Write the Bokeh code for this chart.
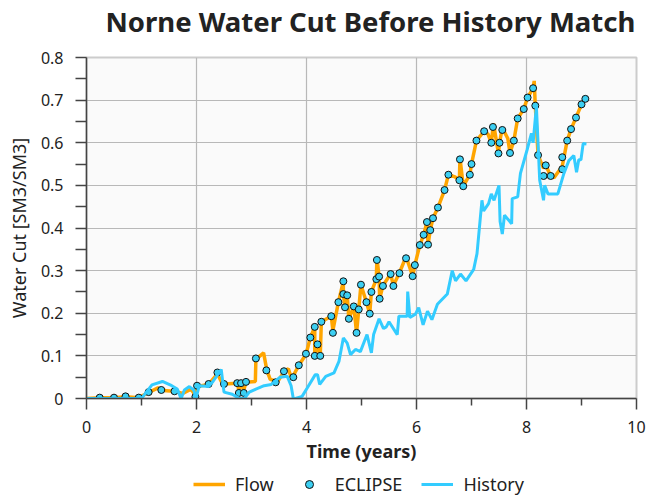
from bokeh.plotting import figure
from bokeh.layouts import column
from bokeh.models import Legend, LegendItem, FixedTicker, NumeralTickFormatter, ColumnDataSource
from bokeh.embed import file_html
from bokeh.resources import INLINE

# ---- data ----
flow_t = [0.00, 0.24, 0.50, 0.71, 0.95, 1.13, 1.30, 1.45, 1.60, 1.75, 1.90, 1.98, 2.01, 2.22, 2.38, 2.45,
          2.50, 2.74, 2.77, 2.81, 2.86, 2.90, 3.07, 3.08, 3.22, 3.28, 3.34, 3.48, 3.59, 3.67, 3.73, 3.86,
          3.99, 4.07, 4.15, 4.15, 4.20, 4.25, 4.27, 4.45, 4.48, 4.58, 4.67, 4.67, 4.70, 4.74, 4.77, 4.86,
          4.91, 4.95, 4.99, 5.09, 5.15, 5.18, 5.27, 5.28, 5.32, 5.33, 5.39, 5.53, 5.58, 5.69, 5.81, 5.93,
          5.97, 6.06, 6.13, 6.19, 6.21, 6.25, 6.30, 6.39, 6.51, 6.58, 6.70, 6.78, 6.79, 6.85, 6.97, 7.00,
          7.09, 7.23, 7.30, 7.36, 7.40, 7.49, 7.51, 7.56, 7.66, 7.70, 7.77, 7.84, 7.95, 8.02, 8.12, 8.14,
          8.16, 8.21, 8.31, 8.35, 8.44, 8.50, 8.65, 8.74, 8.81, 8.90, 9.00, 9.07]
flow_wc = [0.000, 0.002, 0.002, 0.004, 0.002, 0.014, 0.025, 0.018, 0.017, 0.012, 0.022, 0.008, 0.028, 0.033, 0.058, 0.040,
           0.034, 0.036, 0.020, 0.036, 0.020, 0.038, 0.040, 0.092, 0.107, 0.066, 0.045, 0.040, 0.063, 0.070, 0.046, 0.078,
           0.103, 0.143, 0.168, 0.100, 0.127, 0.100, 0.180, 0.193, 0.160, 0.226, 0.275, 0.245, 0.213, 0.242, 0.187, 0.216,
           0.154, 0.209, 0.267, 0.226, 0.199, 0.250, 0.280, 0.330, 0.286, 0.234, 0.265, 0.292, 0.265, 0.295, 0.333, 0.287,
           0.313, 0.360, 0.384, 0.414, 0.361, 0.395, 0.423, 0.448, 0.489, 0.525, 0.520, 0.512, 0.565, 0.498, 0.525, 0.550,
           0.605, 0.627, 0.620, 0.600, 0.645, 0.575, 0.600, 0.635, 0.610, 0.576, 0.605, 0.657, 0.679, 0.706, 0.728, 0.745,
           0.687, 0.571, 0.540, 0.547, 0.522, 0.518, 0.545, 0.605, 0.632, 0.659, 0.690, 0.703]

eclipse_t = [0.24, 0.50, 0.71, 0.95, 1.13, 1.36, 1.60, 1.98, 2.01, 2.22, 2.38, 2.50, 2.74, 2.77, 2.81, 2.86,
             2.90, 3.08, 3.27, 3.44, 3.59, 3.76, 3.86, 3.99, 4.07, 4.15, 4.15, 4.20, 4.25, 4.27, 4.45, 4.48,
             4.58, 4.67, 4.67, 4.70, 4.74, 4.77, 4.86, 4.91, 4.95, 4.99, 5.09, 5.15, 5.18, 5.27, 5.28, 5.32,
             5.33, 5.39, 5.53, 5.58, 5.69, 5.81, 5.93, 5.97, 6.06, 6.13, 6.19, 6.21, 6.25, 6.30, 6.39, 6.51,
             6.58, 6.78, 6.79, 6.85, 6.97, 7.00, 7.09, 7.23, 7.36, 7.39, 7.49, 7.51, 7.56, 7.70, 7.77, 7.84,
             7.95, 8.02, 8.12, 8.16, 8.21, 8.31, 8.35, 8.44, 8.65, 8.65, 8.74, 8.81, 8.90, 9.00, 9.07]
eclipse_wc = [0.002, 0.002, 0.005, 0.002, 0.015, 0.020, 0.017, 0.004, 0.030, 0.034, 0.061, 0.034, 0.036, 0.013, 0.036, 0.013,
              0.039, 0.094, 0.066, 0.038, 0.064, 0.050, 0.078, 0.105, 0.143, 0.168, 0.100, 0.127, 0.100, 0.180, 0.193, 0.154,
              0.226, 0.275, 0.245, 0.214, 0.242, 0.187, 0.216, 0.154, 0.209, 0.267, 0.226, 0.199, 0.250, 0.280, 0.325, 0.286,
              0.234, 0.264, 0.292, 0.264, 0.294, 0.329, 0.287, 0.313, 0.360, 0.384, 0.414, 0.361, 0.395, 0.423, 0.448, 0.489,
              0.525, 0.512, 0.561, 0.498, 0.525, 0.550, 0.605, 0.627, 0.600, 0.637, 0.575, 0.600, 0.630, 0.576, 0.605, 0.657,
              0.679, 0.706, 0.728, 0.687, 0.571, 0.522, 0.547, 0.522, 0.538, 0.566, 0.605, 0.632, 0.659, 0.690, 0.703]

history_t = [0.00, 1.00, 1.19, 1.38, 1.55, 1.65, 1.72, 1.78, 1.87, 1.95, 1.99, 2.05, 2.22, 2.30, 2.45, 2.50,
             2.65, 2.78, 2.87, 2.96, 3.08, 3.23, 3.36, 3.52, 3.65, 3.72, 3.76, 3.80, 3.92, 4.01, 4.16, 4.20,
             4.24, 4.35, 4.50, 4.59, 4.67, 4.74, 4.80, 4.89, 4.98, 5.10, 5.18, 5.22, 5.32, 5.40, 5.45, 5.50,
             5.65, 5.68, 5.83, 5.84, 5.88, 5.98, 6.04, 6.12, 6.20, 6.28, 6.38, 6.56, 6.65, 6.71, 6.80, 6.90,
             7.04, 7.10, 7.19, 7.22, 7.31, 7.36, 7.41, 7.50, 7.52, 7.56, 7.60, 7.73, 7.74, 7.84, 7.89, 8.01,
             8.09, 8.12, 8.18, 8.24, 8.31, 8.33, 8.39, 8.57, 8.68, 8.77, 8.86, 8.91, 8.95, 8.99, 9.03, 9.09]
history_wc = [0.000, 0.000, 0.032, 0.040, 0.030, 0.022, 0.000, 0.020, 0.028, 0.020, 0.000, 0.030, 0.028, 0.040, 0.068, 0.015,
              0.010, 0.000, 0.000, 0.015, 0.022, 0.030, 0.033, 0.050, 0.052, 0.030, 0.000, 0.000, 0.005, 0.024, 0.056, 0.056,
              0.033, 0.052, 0.060, 0.087, 0.142, 0.130, 0.103, 0.115, 0.110, 0.150, 0.107, 0.150, 0.187, 0.164, 0.168, 0.180,
              0.150, 0.193, 0.193, 0.251, 0.190, 0.198, 0.213, 0.173, 0.205, 0.185, 0.221, 0.245, 0.300, 0.276, 0.292, 0.276,
              0.303, 0.340, 0.465, 0.440, 0.457, 0.480, 0.465, 0.500, 0.415, 0.386, 0.430, 0.410, 0.469, 0.473, 0.528, 0.583,
              0.622, 0.600, 0.685, 0.512, 0.465, 0.500, 0.480, 0.480, 0.528, 0.558, 0.570, 0.531, 0.560, 0.560, 0.598, 0.597]

x_major = [0, 2, 4, 6, 8, 10]
x_minor = [1, 3, 5, 7, 9]
y_major = [0, 0.1, 0.2, 0.3, 0.4, 0.5, 0.6, 0.7, 0.8]
y_minor = [0.05, 0.15, 0.25, 0.35, 0.45, 0.55, 0.65, 0.75]
series_names = ["Flow", "ECLIPSE", "History"]
title_text = "Norne Water Cut Before History Match"

FONT = "Noto Sans"
ORANGE = "#FFA500"
BLUE = "#33CCFF"
MARK_FILL = "#3CCFF2"
NAN = float("nan")


def strip(height, **kw):
    f = figure(width=652, height=height, x_range=(0, 1), y_range=(0, 1),
               output_backend="svg", toolbar_location=None,
               min_border_left=0, min_border_right=0, min_border_top=0, min_border_bottom=0, **kw)
    f.axis.visible = False
    f.grid.visible = False
    f.outline_line_color = None
    f.background_fill_color = "white"
    f.border_fill_color = "white"
    return f


# ---- title strip (title lives in a side panel, so it is never clipped) ----
tf = strip(47, title=title_text)
tf.title.text_font = FONT
tf.title.text_font_size = "27.5px"
tf.title.text_font_style = "bold"
tf.title.text_color = "#222222"
tf.title.align = "left"
tf.title.offset = 19
tf.title.standoff = 0

# ---- main chart ----
p = figure(width=652, height=421, x_range=(0, 10), y_range=(0, 0.8),
           output_backend="svg", toolbar_location=None,
           min_border_left=86, min_border_right=16, min_border_top=10, min_border_bottom=70)

p.background_fill_color = "#fafafa"
p.border_fill_color = "white"
p.outline_line_color = "#cccccc"
p.outline_line_width = 2

flow_src = ColumnDataSource(dict(t=flow_t, wc=flow_wc))
ecl_src = ColumnDataSource(dict(t=eclipse_t, wc=eclipse_wc))
hist_src = ColumnDataSource(dict(t=history_t, wc=history_wc))

p.line("t", "wc", source=flow_src, line_color=ORANGE, line_width=3.5)
p.scatter("t", "wc", source=ecl_src, marker="circle", size=7,
          fill_color=MARK_FILL, line_color="#111111", line_width=1)
p.line("t", "wc", source=hist_src, line_color=BLUE, line_width=3)

xa = p.xaxis[0]
xa.ticker = FixedTicker(ticks=x_major, minor_ticks=x_minor)
xa.axis_label = "Time (years)"
ya = p.yaxis[0]
ya.ticker = FixedTicker(ticks=y_major, minor_ticks=y_minor)
ya.formatter = NumeralTickFormatter(format="0.[0]")
ya.axis_label = "Water Cut [SM3/SM3]"

for ax in (xa, ya):
    ax.axis_line_color = "#444444"
    ax.axis_line_width = 1.5
    ax.major_tick_line_color = "#444444"
    ax.minor_tick_line_color = "#444444"
    ax.major_tick_line_width = 1.5
    ax.minor_tick_line_width = 1.5
    ax.major_tick_out = 11
    ax.major_tick_in = 0
    ax.minor_tick_in = 0
    ax.major_label_text_font = FONT
    ax.major_label_text_font_size = "16px"
    ax.major_label_text_color = "#222222"
    ax.axis_label_text_font = FONT
    ax.axis_label_text_color = "#222222"

xa.minor_tick_out = 7
ya.minor_tick_out = 11
xa.major_label_standoff = 11
xa.axis_label_standoff = 3
xa.axis_label_text_font_size = "18px"
xa.axis_label_text_font_style = "bold"
ya.major_label_standoff = 12
ya.axis_label_standoff = 7
ya.axis_label_text_font_size = "18px"
ya.axis_label_text_font_style = "normal"

p.xgrid.ticker = FixedTicker(ticks=x_major)
p.ygrid.ticker = FixedTicker(ticks=y_major)
p.grid.grid_line_color = "#b8b8b8"
p.grid.grid_line_width = 1.2

# ---- legend strip below the chart ----
lg = strip(34)
l_flow = lg.line([NAN], [NAN], line_color=ORANGE, line_width=3.5)
l_ecl = lg.scatter([NAN], [NAN], marker="circle", size=7, fill_color=MARK_FILL, line_color="#111111", line_width=1)
l_hist = lg.line([NAN], [NAN], line_color=BLUE, line_width=3)

legend = Legend(items=[LegendItem(label=series_names[0], renderers=[l_flow]),
                       LegendItem(label=series_names[1], renderers=[l_ecl]),
                       LegendItem(label=series_names[2], renderers=[l_hist])],
                orientation="horizontal", location=(103, 2),
                border_line_alpha=0, background_fill_alpha=0,
                label_text_font=FONT, label_text_font_size="18px", label_text_color="#222222",
                glyph_width=32, label_standoff=10, spacing=19, padding=4, margin=0)
lg.add_layout(legend, "center")

open("out.html", "w").write(file_html(column(tf, p, lg, spacing=0), INLINE))
